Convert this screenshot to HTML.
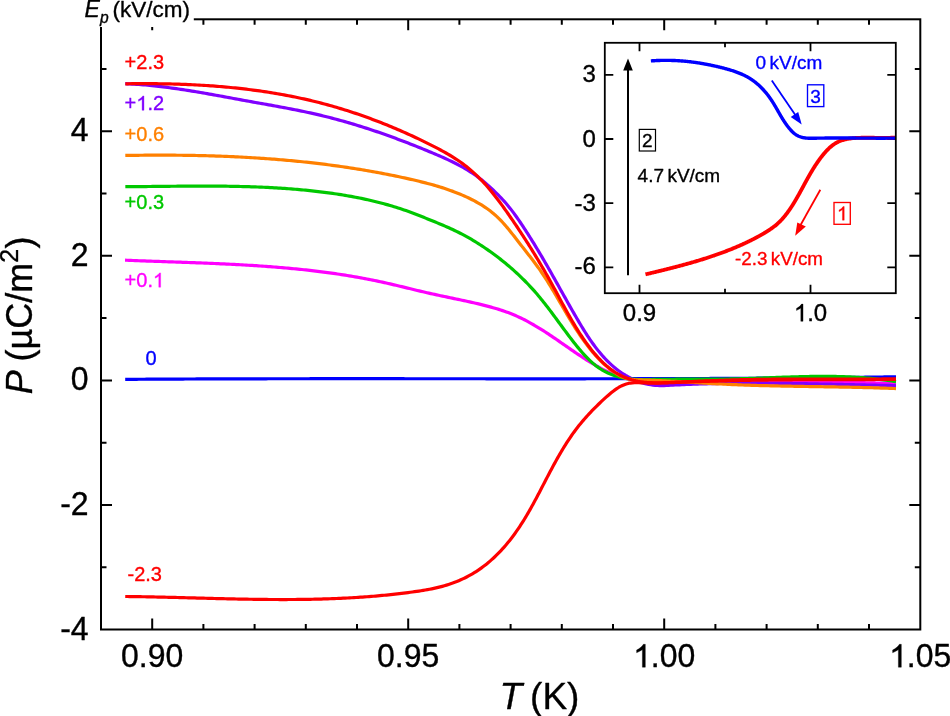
<!DOCTYPE html><html><head><meta charset="utf-8"><style>html,body{margin:0;padding:0;background:#fff;width:950px;height:716px;overflow:hidden}svg{display:block;font-family:"Liberation Sans",sans-serif;will-change:transform}</style></head><body>
<svg width="950" height="716" viewBox="0 0 950 716">
<rect width="950" height="716" fill="#fff"/>
<path d="M125.20,379.36 L127.13,379.34 L129.06,379.33 L131.00,379.32 L132.93,379.30 L134.86,379.29 L136.79,379.28 L138.72,379.27 L140.65,379.25 L142.59,379.24 L144.52,379.23 L146.45,379.22 L148.38,379.21 L150.31,379.20 L152.25,379.19 L154.18,379.17 L156.11,379.16 L158.04,379.15 L159.97,379.14 L161.90,379.13 L163.84,379.12 L165.77,379.11 L167.70,379.10 L169.63,379.09 L171.56,379.08 L173.50,379.07 L175.43,379.06 L177.36,379.05 L179.29,379.05 L181.22,379.04 L183.16,379.03 L185.09,379.02 L187.02,379.01 L188.95,379.00 L190.88,378.99 L192.81,378.99 L194.75,378.98 L196.68,378.97 L198.61,378.96 L200.54,378.96 L202.47,378.95 L204.41,378.94 L206.34,378.93 L208.27,378.93 L210.20,378.92 L212.13,378.91 L214.06,378.91 L216.00,378.90 L217.93,378.90 L219.86,378.89 L221.79,378.88 L223.72,378.88 L225.66,378.87 L227.59,378.87 L229.52,378.86 L231.45,378.86 L233.38,378.85 L235.31,378.84 L237.25,378.84 L239.18,378.83 L241.11,378.83 L243.04,378.83 L244.97,378.82 L246.91,378.82 L248.84,378.81 L250.77,378.81 L252.70,378.80 L254.63,378.80 L256.57,378.80 L258.50,378.79 L260.43,378.79 L262.36,378.78 L264.29,378.78 L266.22,378.78 L268.16,378.77 L270.09,378.77 L272.02,378.77 L273.95,378.76 L275.88,378.76 L277.82,378.76 L279.75,378.76 L281.68,378.75 L283.61,378.75 L285.54,378.75 L287.48,378.75 L289.41,378.74 L291.34,378.74 L293.27,378.74 L295.20,378.74 L297.13,378.74 L299.07,378.73 L301.00,378.73 L302.93,378.73 L304.86,378.73 L306.79,378.73 L308.73,378.73 L310.66,378.72 L312.59,378.72 L314.52,378.72 L316.45,378.72 L318.39,378.72 L320.32,378.72 L322.25,378.72 L324.18,378.72 L326.11,378.72 L328.04,378.71 L329.98,378.71 L331.91,378.71 L333.84,378.71 L335.77,378.71 L337.70,378.71 L339.64,378.71 L341.57,378.71 L343.50,378.71 L345.43,378.71 L347.36,378.71 L349.30,378.71 L351.23,378.71 L353.16,378.71 L355.09,378.71 L357.02,378.71 L358.95,378.71 L360.89,378.71 L362.82,378.71 L364.75,378.71 L366.68,378.71 L368.61,378.71 L370.55,378.71 L372.48,378.71 L374.41,378.71 L376.34,378.71 L378.27,378.71 L380.21,378.71 L382.14,378.72 L384.07,378.72 L386.00,378.72 L387.93,378.72 L389.86,378.72 L391.80,378.72 L393.73,378.72 L395.66,378.72 L397.59,378.72 L399.52,378.72 L401.46,378.72 L403.39,378.72 L405.32,378.73 L407.25,378.73 L409.18,378.73 L411.12,378.73 L413.05,378.73 L414.98,378.73 L416.91,378.73 L418.84,378.73 L420.78,378.73 L422.71,378.74 L424.64,378.74 L426.57,378.74 L428.50,378.74 L430.43,378.74 L432.37,378.74 L434.30,378.74 L436.23,378.74 L438.16,378.75 L440.09,378.75 L442.03,378.75 L443.96,378.75 L445.89,378.75 L447.82,378.75 L449.75,378.75 L451.69,378.75 L453.62,378.76 L455.55,378.76 L457.48,378.76 L459.41,378.76 L461.34,378.76 L463.28,378.76 L465.21,378.76 L467.14,378.76 L469.07,378.77 L471.00,378.77 L472.94,378.77 L474.87,378.77 L476.80,378.77 L478.73,378.77 L480.66,378.77 L482.60,378.77 L484.53,378.77 L486.46,378.78 L488.39,378.78 L490.32,378.78 L492.26,378.78 L494.19,378.78 L496.12,378.78 L498.05,378.78 L499.98,378.78 L501.91,378.78 L503.85,378.78 L505.78,378.78 L507.71,378.78 L509.64,378.79 L511.57,378.79 L513.51,378.79 L515.44,378.79 L517.37,378.79 L519.30,378.79 L521.23,378.79 L523.17,378.79 L525.10,378.79 L527.03,378.79 L528.96,378.79 L530.89,378.79 L532.82,378.79 L534.76,378.79 L536.69,378.79 L538.62,378.79 L540.55,378.79 L542.48,378.79 L544.42,378.79 L546.35,378.79 L548.28,378.79 L550.21,378.79 L552.14,378.79 L554.08,378.79 L556.01,378.79 L557.94,378.79 L559.87,378.79 L561.80,378.79 L563.73,378.79 L565.67,378.79 L567.60,378.79 L569.53,378.78 L571.46,378.78 L573.39,378.78 L575.33,378.78 L577.26,378.78 L579.19,378.78 L581.12,378.78 L583.05,378.78 L584.99,378.78 L586.92,378.77 L588.85,378.77 L590.78,378.77 L592.71,378.77 L594.64,378.77 L596.58,378.76 L598.51,378.76 L600.44,378.76 L602.37,378.76 L604.30,378.76 L606.24,378.75 L608.17,378.75 L610.10,378.75 L612.03,378.75 L613.96,378.74 L615.89,378.74 L617.83,378.74 L619.76,378.74 L621.69,378.73 L623.62,378.73 L625.55,378.73 L627.49,378.72 L629.42,378.72 L631.35,378.72 L633.28,378.71 L635.21,378.71 L637.15,378.70 L639.08,378.70 L641.01,378.70 L642.94,378.69 L644.87,378.69 L646.80,378.68 L648.74,378.68 L650.67,378.67 L652.60,378.67 L654.53,378.66 L656.46,378.66 L658.40,378.65 L660.33,378.65 L662.26,378.64 L664.19,378.64 L666.12,378.63 L668.05,378.63 L669.99,378.62 L671.92,378.62 L673.85,378.61 L675.78,378.60 L677.71,378.60 L679.65,378.59 L681.58,378.58 L683.51,378.58 L685.44,378.57 L687.37,378.56 L689.30,378.56 L691.24,378.55 L693.17,378.54 L695.10,378.53 L697.03,378.53 L698.96,378.52 L700.90,378.51 L702.83,378.50 L704.76,378.49 L706.69,378.49 L708.62,378.48 L710.55,378.47 L712.49,378.46 L714.42,378.45 L716.35,378.44 L718.28,378.43 L720.21,378.42 L722.15,378.41 L724.08,378.40 L726.01,378.39 L727.94,378.38 L729.87,378.37 L731.80,378.36 L733.74,378.35 L735.67,378.34 L737.60,378.33 L739.53,378.32 L741.46,378.31 L743.40,378.30 L745.33,378.29 L747.26,378.28 L749.19,378.26 L751.12,378.25 L753.05,378.24 L754.99,378.23 L756.92,378.22 L758.85,378.20 L760.78,378.19 L762.71,378.18 L764.65,378.16 L766.58,378.15 L768.51,378.14 L770.44,378.12 L772.37,378.11 L774.30,378.10 L776.24,378.08 L778.17,378.07 L780.10,378.05 L782.03,378.04 L783.96,378.02 L785.89,378.01 L787.83,377.99 L789.76,377.98 L791.69,377.96 L793.62,377.95 L795.55,377.93 L797.49,377.91 L799.42,377.90 L801.35,377.88 L803.28,377.86 L805.21,377.85 L807.14,377.83 L809.08,377.81 L811.01,377.80 L812.94,377.78 L814.87,377.76 L816.80,377.74 L818.73,377.72 L820.67,377.70 L822.60,377.69 L824.53,377.67 L826.46,377.65 L828.39,377.63 L830.32,377.61 L832.26,377.59 L834.19,377.57 L836.12,377.55 L838.05,377.53 L839.98,377.51 L841.92,377.49 L843.85,377.46 L845.78,377.44 L847.71,377.42 L849.64,377.40 L851.57,377.38 L853.51,377.36 L855.44,377.33 L857.37,377.31 L859.30,377.29 L861.23,377.26 L863.16,377.24 L865.10,377.22 L867.03,377.19 L868.96,377.17 L870.89,377.15 L872.82,377.12 L874.75,377.10 L876.69,377.07 L878.62,377.05 L880.55,377.02 L882.48,376.99 L884.41,376.97 L886.34,376.94 L888.28,376.92 L890.21,376.89 L892.14,376.86 L894.07,376.83 L896.00,376.81" fill="none" stroke="#0000ff" stroke-width="3.2" stroke-linejoin="round" stroke-linecap="butt"/>
<path d="M125.04,260.19 L127.02,260.27 L129.00,260.35 L130.98,260.43 L132.96,260.51 L134.95,260.59 L136.93,260.67 L138.91,260.74 L140.89,260.81 L142.88,260.89 L144.86,260.96 L146.84,261.03 L148.83,261.10 L150.81,261.18 L152.80,261.25 L154.79,261.32 L156.77,261.39 L158.76,261.45 L160.75,261.52 L162.73,261.59 L164.72,261.66 L166.71,261.73 L168.70,261.80 L170.69,261.87 L172.67,261.94 L174.66,262.00 L176.65,262.07 L178.64,262.14 L180.63,262.21 L182.62,262.28 L184.61,262.35 L186.60,262.43 L188.59,262.50 L190.58,262.57 L192.57,262.64 L194.56,262.72 L196.56,262.79 L198.55,262.87 L200.54,262.94 L202.53,263.02 L204.52,263.10 L206.51,263.18 L208.50,263.26 L210.49,263.34 L212.49,263.43 L214.48,263.51 L216.47,263.60 L218.46,263.69 L220.45,263.78 L222.44,263.87 L224.43,263.96 L226.42,264.06 L228.42,264.15 L230.41,264.25 L232.40,264.35 L234.39,264.45 L236.38,264.56 L238.37,264.66 L240.36,264.77 L242.35,264.88 L244.34,264.99 L246.33,265.11 L248.32,265.23 L250.31,265.35 L252.30,265.47 L254.28,265.60 L256.27,265.72 L258.26,265.85 L260.25,265.99 L262.24,266.12 L264.22,266.26 L266.21,266.40 L268.20,266.55 L270.18,266.70 L272.17,266.85 L274.15,267.00 L276.14,267.16 L278.12,267.32 L280.11,267.49 L282.09,267.65 L284.08,267.82 L286.06,268.00 L288.04,268.18 L290.02,268.36 L292.00,268.55 L293.98,268.74 L295.96,268.93 L297.94,269.13 L299.92,269.33 L301.90,269.53 L303.88,269.74 L305.86,269.96 L307.83,270.17 L309.81,270.40 L311.79,270.62 L313.76,270.85 L315.74,271.09 L317.71,271.33 L319.68,271.57 L321.65,271.82 L323.63,272.07 L325.60,272.33 L327.57,272.60 L329.54,272.86 L331.51,273.14 L333.47,273.41 L335.44,273.70 L337.41,273.99 L339.37,274.28 L341.34,274.58 L343.30,274.88 L345.26,275.19 L347.23,275.51 L349.19,275.83 L351.15,276.15 L353.11,276.48 L355.07,276.82 L357.02,277.16 L358.98,277.51 L360.94,277.87 L362.89,278.23 L364.84,278.59 L366.80,278.96 L368.75,279.34 L370.70,279.73 L372.65,280.12 L374.60,280.51 L376.55,280.92 L378.49,281.33 L380.44,281.74 L382.38,282.16 L384.33,282.59 L386.27,283.03 L388.21,283.47 L390.15,283.92 L392.09,284.37 L394.03,284.83 L395.97,285.29 L397.90,285.75 L399.84,286.22 L401.78,286.68 L403.71,287.15 L405.65,287.62 L407.58,288.09 L409.52,288.56 L411.45,289.03 L413.39,289.50 L415.32,289.97 L417.26,290.44 L419.19,290.90 L421.13,291.35 L423.06,291.81 L425.00,292.26 L426.94,292.70 L428.88,293.14 L430.81,293.58 L432.75,294.01 L434.69,294.43 L436.63,294.85 L438.57,295.27 L440.51,295.69 L442.46,296.10 L444.40,296.51 L446.34,296.92 L448.29,297.33 L450.23,297.74 L452.18,298.15 L454.12,298.56 L456.07,298.97 L458.02,299.38 L459.96,299.80 L461.91,300.21 L463.86,300.63 L465.81,301.05 L467.76,301.48 L469.72,301.91 L471.67,302.34 L473.62,302.78 L475.57,303.23 L477.52,303.68 L479.47,304.14 L481.42,304.61 L483.36,305.09 L485.30,305.58 L487.24,306.09 L489.17,306.60 L491.10,307.13 L493.02,307.67 L494.94,308.23 L496.85,308.80 L498.75,309.39 L500.65,309.99 L502.54,310.61 L504.42,311.26 L506.29,311.92 L508.15,312.60 L510.01,313.31 L511.85,314.03 L513.68,314.78 L515.50,315.56 L517.30,316.36 L519.10,317.18 L520.89,318.02 L522.66,318.89 L524.42,319.78 L526.18,320.69 L527.92,321.62 L529.66,322.56 L531.39,323.53 L533.11,324.51 L534.82,325.51 L536.52,326.52 L538.22,327.54 L539.91,328.59 L541.60,329.64 L543.28,330.70 L544.95,331.78 L546.62,332.87 L548.29,333.96 L549.95,335.07 L551.61,336.18 L553.27,337.30 L554.92,338.42 L556.57,339.55 L558.22,340.69 L559.87,341.82 L561.52,342.96 L563.16,344.11 L564.81,345.25 L566.45,346.39 L568.10,347.53 L569.75,348.67 L571.40,349.81 L573.05,350.94 L574.71,352.07 L576.37,353.20 L578.03,354.32 L579.69,355.43 L581.36,356.54 L583.03,357.63 L584.71,358.72 L586.39,359.80 L588.08,360.86 L589.78,361.91 L591.48,362.95 L593.19,363.98 L594.91,364.99 L596.63,365.98 L598.36,366.95 L600.10,367.90 L601.85,368.82 L603.60,369.73 L605.37,370.60 L607.15,371.45 L608.93,372.27 L610.72,373.06 L612.53,373.82 L614.35,374.55 L616.17,375.24 L618.01,375.90 L619.86,376.51 L621.72,377.09 L623.60,377.63 L625.48,378.13 L627.38,378.58 L629.29,378.99 L631.21,379.37 L633.15,379.70 L635.09,380.01 L637.04,380.27 L639.00,380.51 L640.97,380.72 L642.95,380.90 L644.94,381.05 L646.93,381.18 L648.92,381.29 L650.92,381.37 L652.93,381.44 L654.94,381.49 L656.95,381.53 L658.96,381.55 L660.98,381.57 L663.00,381.57 L665.02,381.57 L667.03,381.56 L669.05,381.55 L671.07,381.53 L673.08,381.52 L675.09,381.50 L677.10,381.49 L679.11,381.47 L681.12,381.46 L683.13,381.44 L685.13,381.42 L687.13,381.40 L689.14,381.38 L691.14,381.36 L693.14,381.34 L695.14,381.32 L697.13,381.31 L699.13,381.29 L701.12,381.27 L703.12,381.25 L705.11,381.23 L707.10,381.21 L709.09,381.19 L711.09,381.17 L713.07,381.15 L715.06,381.13 L717.05,381.11 L719.04,381.09 L721.03,381.07 L723.01,381.06 L725.00,381.04 L726.98,381.02 L728.97,381.01 L730.95,380.99 L732.94,380.98 L734.92,380.96 L736.90,380.95 L738.89,380.94 L740.87,380.93 L742.85,380.92 L744.84,380.91 L746.82,380.90 L748.80,380.90 L750.78,380.89 L752.77,380.89 L754.75,380.89 L756.73,380.88 L758.72,380.88 L760.70,380.89 L762.68,380.89 L764.67,380.89 L766.65,380.90 L768.64,380.91 L770.62,380.92 L772.61,380.93 L774.59,380.94 L776.58,380.96 L778.57,380.97 L780.56,380.99 L782.54,381.01 L784.53,381.03 L786.52,381.05 L788.51,381.08 L790.50,381.10 L792.49,381.13 L794.48,381.16 L796.47,381.19 L798.46,381.22 L800.45,381.25 L802.44,381.28 L804.43,381.32 L806.43,381.35 L808.42,381.39 L810.41,381.43 L812.40,381.46 L814.39,381.50 L816.39,381.54 L818.38,381.58 L820.37,381.63 L822.37,381.67 L824.36,381.71 L826.35,381.76 L828.34,381.80 L830.34,381.85 L832.33,381.89 L834.32,381.94 L836.31,381.98 L838.31,382.03 L840.30,382.08 L842.29,382.13 L844.28,382.18 L846.28,382.23 L848.27,382.28 L850.26,382.33 L852.25,382.38 L854.24,382.43 L856.24,382.48 L858.23,382.53 L860.22,382.58 L862.21,382.63 L864.20,382.68 L866.19,382.73 L868.18,382.78 L870.17,382.83 L872.16,382.88 L874.15,382.93 L876.13,382.98 L878.12,383.03 L880.11,383.08 L882.10,383.13 L884.08,383.18 L886.07,383.22 L888.05,383.27 L890.04,383.32 L892.02,383.36 L894.01,383.41 L895.99,383.46" fill="none" stroke="#ff00ff" stroke-width="3.2" stroke-linejoin="round" stroke-linecap="butt"/>
<path d="M125.29,83.71 L127.53,83.81 L129.77,83.91 L132.00,84.04 L134.23,84.17 L136.46,84.31 L138.69,84.47 L140.92,84.64 L143.14,84.82 L145.37,85.01 L147.59,85.21 L149.81,85.42 L152.03,85.64 L154.25,85.87 L156.46,86.11 L158.68,86.36 L160.89,86.62 L163.10,86.89 L165.32,87.17 L167.53,87.45 L169.73,87.74 L171.94,88.04 L174.15,88.35 L176.35,88.67 L178.56,88.99 L180.76,89.32 L182.96,89.65 L185.17,89.99 L187.37,90.34 L189.57,90.69 L191.77,91.05 L193.96,91.41 L196.16,91.78 L198.36,92.15 L200.56,92.52 L202.75,92.90 L204.95,93.28 L207.15,93.67 L209.34,94.06 L211.54,94.45 L213.73,94.84 L215.93,95.24 L218.12,95.64 L220.31,96.04 L222.51,96.44 L224.70,96.84 L226.90,97.25 L229.09,97.65 L231.29,98.05 L233.48,98.46 L235.68,98.86 L237.87,99.26 L240.07,99.67 L242.26,100.07 L244.46,100.47 L246.66,100.87 L248.85,101.26 L251.05,101.66 L253.25,102.05 L255.45,102.45 L257.64,102.84 L259.84,103.23 L262.04,103.62 L264.24,104.02 L266.44,104.41 L268.63,104.81 L270.83,105.20 L273.03,105.60 L275.22,106.00 L277.42,106.40 L279.61,106.81 L281.81,107.21 L284.00,107.63 L286.19,108.04 L288.39,108.46 L290.58,108.88 L292.77,109.31 L294.95,109.74 L297.14,110.18 L299.33,110.62 L301.51,111.07 L303.69,111.53 L305.88,111.99 L308.05,112.45 L310.23,112.93 L312.41,113.41 L314.58,113.90 L316.75,114.40 L318.92,114.91 L321.09,115.42 L323.26,115.95 L325.42,116.48 L327.58,117.02 L329.74,117.57 L331.90,118.13 L334.05,118.69 L336.21,119.27 L338.36,119.85 L340.51,120.44 L342.65,121.04 L344.80,121.65 L346.94,122.26 L349.08,122.89 L351.22,123.52 L353.35,124.15 L355.49,124.80 L357.62,125.45 L359.75,126.11 L361.87,126.78 L364.00,127.45 L366.12,128.13 L368.24,128.82 L370.36,129.52 L372.48,130.22 L374.59,130.93 L376.71,131.64 L378.82,132.36 L380.92,133.09 L383.03,133.82 L385.14,134.57 L387.24,135.31 L389.34,136.07 L391.44,136.82 L393.53,137.59 L395.63,138.36 L397.72,139.14 L399.81,139.92 L401.90,140.71 L403.98,141.50 L406.07,142.30 L408.15,143.10 L410.23,143.91 L412.31,144.72 L414.38,145.54 L416.46,146.37 L418.53,147.20 L420.60,148.03 L422.66,148.87 L424.73,149.71 L426.79,150.56 L428.86,151.41 L430.92,152.27 L432.97,153.13 L435.03,154.00 L437.08,154.87 L439.13,155.76 L441.17,156.65 L443.20,157.55 L445.23,158.47 L447.25,159.40 L449.27,160.34 L451.27,161.30 L453.27,162.28 L455.25,163.28 L457.22,164.29 L459.19,165.33 L461.14,166.39 L463.07,167.47 L465.00,168.57 L466.90,169.70 L468.80,170.86 L470.67,172.05 L472.53,173.26 L474.38,174.51 L476.20,175.79 L478.01,177.10 L479.79,178.44 L481.56,179.82 L483.30,181.24 L485.03,182.68 L486.73,184.16 L488.42,185.65 L490.09,187.17 L491.74,188.71 L493.37,190.26 L494.99,191.82 L496.58,193.39 L498.17,194.97 L499.73,196.55 L501.27,198.14 L502.79,199.75 L504.28,201.38 L505.74,203.04 L507.18,204.71 L508.59,206.41 L509.97,208.13 L511.33,209.87 L512.67,211.62 L513.99,213.40 L515.30,215.18 L516.58,216.99 L517.86,218.80 L519.12,220.63 L520.37,222.48 L521.61,224.33 L522.84,226.19 L524.07,228.05 L525.29,229.93 L526.50,231.81 L527.71,233.70 L528.92,235.59 L530.12,237.49 L531.31,239.40 L532.50,241.30 L533.68,243.21 L534.86,245.13 L536.03,247.05 L537.20,248.97 L538.35,250.89 L539.51,252.81 L540.65,254.73 L541.79,256.66 L542.92,258.58 L544.04,260.51 L545.16,262.44 L546.27,264.36 L547.38,266.29 L548.48,268.21 L549.58,270.14 L550.67,272.07 L551.77,273.99 L552.85,275.92 L553.94,277.85 L555.02,279.78 L556.10,281.71 L557.18,283.64 L558.26,285.57 L559.34,287.50 L560.42,289.43 L561.50,291.36 L562.58,293.29 L563.66,295.23 L564.75,297.16 L565.83,299.09 L566.92,301.03 L568.01,302.97 L569.10,304.90 L570.20,306.84 L571.31,308.78 L572.41,310.71 L573.53,312.65 L574.64,314.59 L575.77,316.54 L576.90,318.48 L578.04,320.42 L579.18,322.36 L580.34,324.30 L581.50,326.23 L582.68,328.16 L583.87,330.08 L585.07,332.00 L586.28,333.90 L587.51,335.79 L588.75,337.67 L590.01,339.54 L591.29,341.39 L592.59,343.23 L593.90,345.04 L595.24,346.84 L596.59,348.62 L597.97,350.37 L599.37,352.10 L600.80,353.80 L602.25,355.48 L603.72,357.13 L605.22,358.75 L606.75,360.34 L608.31,361.90 L609.89,363.42 L611.51,364.91 L613.16,366.36 L614.84,367.78 L616.55,369.15 L618.30,370.49 L620.08,371.78 L621.90,373.03 L623.75,374.23 L625.64,375.39 L627.57,376.49 L629.54,377.55 L631.55,378.56 L633.59,379.51 L635.66,380.41 L637.76,381.24 L639.88,382.01 L642.02,382.71 L644.19,383.34 L646.37,383.90 L648.57,384.38 L650.77,384.78 L652.98,385.11 L655.20,385.34 L657.42,385.49 L659.65,385.57 L661.87,385.58 L664.10,385.55 L666.33,385.47 L668.56,385.37 L670.79,385.25 L673.02,385.13 L675.25,385.02 L677.48,384.91 L679.71,384.80 L681.94,384.70 L684.16,384.60 L686.39,384.50 L688.62,384.41 L690.85,384.32 L693.08,384.23 L695.31,384.15 L697.54,384.08 L699.77,384.00 L702.00,383.93 L704.23,383.86 L706.46,383.80 L708.69,383.74 L710.92,383.68 L713.15,383.63 L715.38,383.58 L717.61,383.53 L719.84,383.49 L722.06,383.45 L724.29,383.41 L726.52,383.37 L728.75,383.34 L730.98,383.31 L733.21,383.29 L735.44,383.27 L737.67,383.24 L739.90,383.23 L742.13,383.21 L744.36,383.20 L746.59,383.19 L748.82,383.18 L751.05,383.18 L753.28,383.18 L755.51,383.18 L757.74,383.18 L759.97,383.19 L762.20,383.19 L764.43,383.20 L766.66,383.22 L768.89,383.23 L771.12,383.24 L773.35,383.26 L775.58,383.28 L777.81,383.30 L780.04,383.33 L782.27,383.35 L784.50,383.38 L786.73,383.40 L788.96,383.43 L791.19,383.46 L793.42,383.50 L795.65,383.53 L797.88,383.57 L800.11,383.60 L802.34,383.64 L804.57,383.68 L806.80,383.72 L809.03,383.76 L811.27,383.80 L813.50,383.84 L815.73,383.89 L817.96,383.93 L820.19,383.98 L822.42,384.02 L824.65,384.07 L826.88,384.12 L829.11,384.16 L831.34,384.21 L833.57,384.26 L835.80,384.31 L838.03,384.36 L840.26,384.41 L842.49,384.46 L844.72,384.51 L846.95,384.56 L849.18,384.61 L851.41,384.66 L853.64,384.71 L855.87,384.76 L858.10,384.81 L860.33,384.86 L862.56,384.91 L864.79,384.96 L867.02,385.01 L869.25,385.06 L871.48,385.10 L873.70,385.15 L875.93,385.20 L878.16,385.24 L880.39,385.29 L882.62,385.33 L884.85,385.38 L887.08,385.42 L889.31,385.46 L891.54,385.50 L893.77,385.54 L896.00,385.58" fill="none" stroke="#8000ff" stroke-width="3.2" stroke-linejoin="round" stroke-linecap="butt"/>
<path d="M125.33,186.70 L127.42,186.69 L129.50,186.68 L131.60,186.66 L133.69,186.65 L135.78,186.63 L137.87,186.61 L139.96,186.59 L142.05,186.57 L144.15,186.55 L146.24,186.53 L148.33,186.51 L150.43,186.49 L152.52,186.47 L154.62,186.44 L156.71,186.42 L158.81,186.40 L160.91,186.38 L163.00,186.36 L165.10,186.33 L167.20,186.31 L169.30,186.29 L171.39,186.27 L173.49,186.25 L175.59,186.23 L177.69,186.21 L179.79,186.20 L181.89,186.18 L183.99,186.17 L186.09,186.15 L188.19,186.14 L190.29,186.13 L192.39,186.12 L194.49,186.11 L196.59,186.10 L198.69,186.10 L200.79,186.09 L202.89,186.09 L204.99,186.09 L207.09,186.09 L209.19,186.10 L211.29,186.10 L213.39,186.11 L215.49,186.13 L217.59,186.14 L219.69,186.16 L221.79,186.18 L223.89,186.20 L225.99,186.22 L228.09,186.25 L230.19,186.28 L232.29,186.32 L234.39,186.35 L236.49,186.39 L238.59,186.44 L240.69,186.49 L242.79,186.54 L244.89,186.59 L246.99,186.65 L249.09,186.71 L251.19,186.78 L253.28,186.85 L255.38,186.92 L257.48,187.00 L259.58,187.09 L261.67,187.17 L263.77,187.27 L265.86,187.36 L267.96,187.46 L270.06,187.57 L272.15,187.68 L274.24,187.80 L276.34,187.92 L278.43,188.05 L280.53,188.18 L282.62,188.31 L284.71,188.46 L286.80,188.60 L288.89,188.76 L290.98,188.92 L293.07,189.08 L295.16,189.25 L297.25,189.43 L299.34,189.61 L301.43,189.80 L303.51,189.99 L305.60,190.19 L307.69,190.40 L309.77,190.62 L311.86,190.84 L313.94,191.06 L316.02,191.30 L318.10,191.54 L320.19,191.79 L322.27,192.04 L324.35,192.30 L326.43,192.57 L328.50,192.85 L330.58,193.13 L332.66,193.43 L334.73,193.73 L336.81,194.04 L338.88,194.35 L340.95,194.68 L343.02,195.01 L345.09,195.36 L347.15,195.71 L349.22,196.07 L351.28,196.44 L353.34,196.82 L355.40,197.21 L357.45,197.61 L359.51,198.02 L361.56,198.44 L363.61,198.87 L365.66,199.32 L367.70,199.77 L369.74,200.23 L371.78,200.70 L373.82,201.19 L375.85,201.69 L377.89,202.19 L379.92,202.71 L381.94,203.24 L383.96,203.79 L385.98,204.34 L388.00,204.91 L390.01,205.49 L392.02,206.09 L394.03,206.69 L396.03,207.31 L398.03,207.95 L400.03,208.59 L402.02,209.25 L404.01,209.92 L405.99,210.61 L407.97,211.31 L409.95,212.03 L411.92,212.76 L413.89,213.50 L415.85,214.25 L417.81,215.02 L419.77,215.79 L421.73,216.56 L423.68,217.35 L425.64,218.14 L427.59,218.93 L429.54,219.72 L431.49,220.51 L433.43,221.30 L435.38,222.09 L437.32,222.89 L439.26,223.69 L441.19,224.50 L443.12,225.31 L445.05,226.14 L446.97,226.97 L448.88,227.82 L450.79,228.68 L452.68,229.55 L454.57,230.44 L456.46,231.35 L458.33,232.27 L460.19,233.21 L462.05,234.16 L463.90,235.14 L465.73,236.14 L467.56,237.15 L469.38,238.19 L471.18,239.24 L472.98,240.31 L474.78,241.39 L476.56,242.49 L478.33,243.61 L480.10,244.74 L481.86,245.88 L483.61,247.04 L485.35,248.21 L487.08,249.40 L488.81,250.60 L490.52,251.81 L492.23,253.04 L493.93,254.28 L495.62,255.53 L497.30,256.80 L498.97,258.08 L500.63,259.37 L502.27,260.68 L503.91,261.99 L505.54,263.32 L507.16,264.67 L508.77,266.02 L510.36,267.39 L511.95,268.77 L513.52,270.17 L515.08,271.57 L516.63,272.99 L518.17,274.42 L519.70,275.86 L521.21,277.32 L522.71,278.78 L524.20,280.26 L525.68,281.75 L527.14,283.25 L528.59,284.77 L530.02,286.29 L531.45,287.83 L532.85,289.37 L534.25,290.93 L535.63,292.50 L536.99,294.08 L538.34,295.68 L539.68,297.28 L541.00,298.89 L542.32,300.51 L543.62,302.14 L544.91,303.78 L546.19,305.43 L547.47,307.08 L548.73,308.74 L549.99,310.41 L551.25,312.08 L552.50,313.75 L553.74,315.43 L554.99,317.11 L556.23,318.80 L557.47,320.49 L558.71,322.18 L559.95,323.87 L561.19,325.56 L562.43,327.26 L563.68,328.95 L564.93,330.64 L566.19,332.33 L567.45,334.01 L568.72,335.70 L569.99,337.38 L571.28,339.06 L572.57,340.73 L573.88,342.40 L575.19,344.06 L576.52,345.72 L577.86,347.37 L579.21,349.01 L580.59,350.63 L581.97,352.24 L583.38,353.83 L584.81,355.40 L586.26,356.94 L587.74,358.45 L589.24,359.92 L590.77,361.36 L592.32,362.76 L593.91,364.11 L595.53,365.41 L597.18,366.66 L598.87,367.85 L600.60,368.99 L602.36,370.07 L604.16,371.08 L605.99,372.04 L607.84,372.94 L609.73,373.78 L611.64,374.56 L613.58,375.28 L615.54,375.94 L617.52,376.55 L619.52,377.09 L621.54,377.57 L623.57,378.00 L625.62,378.36 L627.68,378.67 L629.76,378.92 L631.84,379.13 L633.93,379.29 L636.03,379.41 L638.14,379.50 L640.25,379.55 L642.37,379.58 L644.49,379.58 L646.62,379.57 L648.75,379.55 L650.87,379.51 L653.00,379.47 L655.12,379.43 L657.25,379.40 L659.37,379.37 L661.48,379.34 L663.60,379.31 L665.71,379.29 L667.82,379.27 L669.93,379.26 L672.03,379.24 L674.14,379.23 L676.24,379.22 L678.34,379.22 L680.44,379.21 L682.54,379.21 L684.63,379.20 L686.73,379.20 L688.82,379.20 L690.91,379.20 L693.01,379.20 L695.10,379.20 L697.18,379.20 L699.27,379.20 L701.36,379.19 L703.45,379.19 L705.53,379.19 L707.62,379.18 L709.71,379.17 L711.79,379.16 L713.88,379.15 L715.97,379.14 L718.05,379.12 L720.14,379.10 L722.22,379.08 L724.31,379.05 L726.40,379.02 L728.49,378.99 L730.58,378.95 L732.67,378.91 L734.76,378.86 L736.85,378.81 L738.94,378.76 L741.03,378.70 L743.12,378.64 L745.22,378.58 L747.31,378.51 L749.41,378.44 L751.50,378.37 L753.60,378.30 L755.70,378.23 L757.79,378.15 L759.89,378.08 L761.99,378.00 L764.09,377.92 L766.19,377.84 L768.29,377.76 L770.39,377.68 L772.49,377.60 L774.59,377.52 L776.69,377.44 L778.79,377.37 L780.89,377.29 L782.99,377.21 L785.09,377.14 L787.20,377.07 L789.30,377.00 L791.40,376.93 L793.50,376.87 L795.60,376.80 L797.71,376.74 L799.81,376.69 L801.91,376.64 L804.01,376.59 L806.11,376.54 L808.21,376.50 L810.32,376.47 L812.42,376.43 L814.52,376.41 L816.62,376.39 L818.72,376.37 L820.82,376.36 L822.92,376.35 L825.02,376.36 L827.12,376.36 L829.22,376.38 L831.31,376.40 L833.41,376.43 L835.51,376.46 L837.61,376.51 L839.70,376.56 L841.80,376.61 L843.89,376.68 L845.99,376.76 L848.08,376.84 L850.17,376.93 L852.27,377.04 L854.36,377.15 L856.45,377.27 L858.54,377.40 L860.63,377.54 L862.72,377.69 L864.80,377.85 L866.89,378.03 L868.98,378.21 L871.06,378.41 L873.15,378.61 L875.23,378.83 L877.31,379.06 L879.39,379.31 L881.47,379.56 L883.55,379.83 L885.63,380.11 L887.70,380.40 L889.78,380.71 L891.85,381.03 L893.93,381.37 L896.00,381.72" fill="none" stroke="#00c800" stroke-width="3.2" stroke-linejoin="round" stroke-linecap="butt"/>
<path d="M125.30,155.46 L127.45,155.42 L129.61,155.39 L131.77,155.36 L133.93,155.33 L136.09,155.30 L138.24,155.28 L140.40,155.26 L142.56,155.24 L144.72,155.22 L146.88,155.20 L149.04,155.19 L151.20,155.18 L153.36,155.17 L155.52,155.16 L157.68,155.16 L159.84,155.15 L162.00,155.16 L164.16,155.16 L166.32,155.16 L168.48,155.17 L170.64,155.18 L172.80,155.19 L174.96,155.21 L177.12,155.23 L179.28,155.25 L181.44,155.27 L183.60,155.30 L185.76,155.33 L187.92,155.36 L190.08,155.39 L192.25,155.43 L194.41,155.47 L196.57,155.51 L198.73,155.56 L200.89,155.61 L203.05,155.66 L205.21,155.71 L207.37,155.77 L209.53,155.83 L211.69,155.90 L213.85,155.96 L216.00,156.03 L218.16,156.11 L220.32,156.18 L222.48,156.26 L224.64,156.35 L226.80,156.43 L228.96,156.52 L231.12,156.61 L233.27,156.71 L235.43,156.81 L237.59,156.91 L239.75,157.02 L241.90,157.13 L244.06,157.24 L246.22,157.36 L248.37,157.48 L250.53,157.60 L252.69,157.73 L254.84,157.86 L257.00,158.00 L259.15,158.14 L261.31,158.28 L263.46,158.43 L265.61,158.58 L267.77,158.73 L269.92,158.89 L272.07,159.05 L274.22,159.22 L276.38,159.39 L278.53,159.56 L280.68,159.74 L282.83,159.92 L284.98,160.11 L287.13,160.30 L289.28,160.49 L291.43,160.69 L293.58,160.89 L295.73,161.10 L297.87,161.31 L300.02,161.52 L302.17,161.74 L304.31,161.97 L306.46,162.20 L308.60,162.43 L310.75,162.67 L312.89,162.91 L315.03,163.15 L317.18,163.40 L319.32,163.66 L321.46,163.92 L323.60,164.18 L325.74,164.45 L327.88,164.72 L330.02,165.00 L332.16,165.29 L334.30,165.57 L336.44,165.87 L338.57,166.16 L340.71,166.46 L342.84,166.77 L344.98,167.08 L347.11,167.40 L349.25,167.72 L351.38,168.05 L353.51,168.38 L355.64,168.72 L357.77,169.06 L359.90,169.40 L362.03,169.76 L364.16,170.11 L366.29,170.48 L368.41,170.84 L370.54,171.22 L372.66,171.59 L374.79,171.98 L376.91,172.37 L379.04,172.76 L381.16,173.16 L383.28,173.56 L385.40,173.97 L387.52,174.39 L389.64,174.81 L391.75,175.24 L393.87,175.67 L395.99,176.11 L398.10,176.55 L400.21,177.00 L402.33,177.45 L404.44,177.91 L406.55,178.38 L408.66,178.85 L410.77,179.33 L412.88,179.81 L414.98,180.30 L417.09,180.80 L419.19,181.31 L421.29,181.83 L423.39,182.35 L425.48,182.89 L427.58,183.43 L429.66,183.99 L431.75,184.56 L433.83,185.15 L435.90,185.75 L437.97,186.36 L440.04,186.99 L442.10,187.63 L444.15,188.29 L446.20,188.97 L448.24,189.67 L450.28,190.39 L452.31,191.12 L454.33,191.88 L456.34,192.65 L458.35,193.45 L460.34,194.27 L462.33,195.11 L464.31,195.98 L466.28,196.87 L468.24,197.79 L470.19,198.73 L472.12,199.70 L474.04,200.70 L475.94,201.73 L477.83,202.79 L479.69,203.87 L481.53,204.99 L483.35,206.14 L485.15,207.32 L486.92,208.54 L488.66,209.79 L490.37,211.08 L492.06,212.41 L493.71,213.77 L495.34,215.17 L496.92,216.60 L498.48,218.08 L500.00,219.59 L501.49,221.14 L502.95,222.72 L504.39,224.32 L505.81,225.95 L507.21,227.60 L508.59,229.27 L509.95,230.96 L511.31,232.66 L512.65,234.37 L513.99,236.08 L515.32,237.80 L516.65,239.53 L517.98,241.25 L519.32,242.96 L520.66,244.67 L521.99,246.38 L523.33,248.08 L524.67,249.79 L526.01,251.49 L527.35,253.19 L528.68,254.89 L530.00,256.60 L531.32,258.31 L532.63,260.02 L533.93,261.74 L535.22,263.47 L536.50,265.20 L537.76,266.94 L539.01,268.69 L540.25,270.45 L541.47,272.22 L542.67,274.00 L543.86,275.80 L545.04,277.60 L546.21,279.41 L547.36,281.22 L548.50,283.05 L549.63,284.88 L550.76,286.72 L551.87,288.56 L552.98,290.41 L554.08,292.26 L555.18,294.12 L556.27,295.98 L557.36,297.84 L558.44,299.70 L559.53,301.57 L560.61,303.44 L561.69,305.31 L562.78,307.17 L563.86,309.04 L564.95,310.91 L566.04,312.77 L567.13,314.63 L568.23,316.49 L569.34,318.35 L570.45,320.20 L571.57,322.04 L572.70,323.88 L573.84,325.72 L574.99,327.55 L576.15,329.37 L577.32,331.18 L578.51,332.99 L579.71,334.78 L580.92,336.57 L582.15,338.35 L583.40,340.11 L584.66,341.87 L585.95,343.61 L587.25,345.34 L588.57,347.06 L589.91,348.77 L591.28,350.46 L592.66,352.13 L594.08,353.79 L595.51,355.43 L596.97,357.04 L598.46,358.63 L599.97,360.19 L601.52,361.73 L603.09,363.23 L604.69,364.70 L606.32,366.14 L607.98,367.54 L609.68,368.90 L611.41,370.22 L613.17,371.50 L614.97,372.73 L616.80,373.91 L618.67,375.02 L620.57,376.04 L622.52,376.95 L624.50,377.75 L626.51,378.40 L628.57,378.90 L630.66,379.26 L632.78,379.51 L634.91,379.67 L637.06,379.77 L639.22,379.85 L641.39,379.91 L643.55,379.98 L645.71,380.06 L647.87,380.14 L650.03,380.22 L652.19,380.31 L654.35,380.40 L656.51,380.49 L658.67,380.59 L660.83,380.69 L662.98,380.79 L665.14,380.90 L667.30,381.01 L669.46,381.12 L671.61,381.23 L673.77,381.35 L675.93,381.47 L678.08,381.59 L680.24,381.71 L682.40,381.83 L684.55,381.95 L686.71,382.07 L688.86,382.20 L691.02,382.32 L693.17,382.45 L695.33,382.57 L697.48,382.70 L699.64,382.82 L701.79,382.95 L703.95,383.07 L706.10,383.20 L708.26,383.32 L710.41,383.44 L712.56,383.56 L714.72,383.67 L716.87,383.79 L719.03,383.90 L721.18,384.02 L723.34,384.12 L725.49,384.23 L727.65,384.34 L729.80,384.44 L731.96,384.53 L734.12,384.63 L736.27,384.72 L738.43,384.81 L740.58,384.89 L742.74,384.98 L744.90,385.05 L747.05,385.13 L749.21,385.21 L751.37,385.28 L753.53,385.35 L755.68,385.41 L757.84,385.48 L760.00,385.54 L762.16,385.60 L764.31,385.66 L766.47,385.71 L768.63,385.77 L770.79,385.82 L772.95,385.87 L775.11,385.92 L777.26,385.97 L779.42,386.01 L781.58,386.06 L783.74,386.10 L785.90,386.14 L788.06,386.18 L790.22,386.22 L792.37,386.26 L794.53,386.30 L796.69,386.34 L798.85,386.37 L801.01,386.41 L803.17,386.44 L805.33,386.48 L807.49,386.51 L809.65,386.55 L811.81,386.58 L813.97,386.61 L816.13,386.65 L818.29,386.68 L820.45,386.72 L822.61,386.75 L824.76,386.78 L826.92,386.82 L829.08,386.85 L831.24,386.89 L833.40,386.92 L835.56,386.96 L837.72,387.00 L839.88,387.04 L842.04,387.08 L844.20,387.12 L846.36,387.16 L848.52,387.20 L850.68,387.24 L852.84,387.29 L854.99,387.34 L857.15,387.38 L859.31,387.43 L861.47,387.49 L863.63,387.54 L865.79,387.59 L867.95,387.65 L870.11,387.71 L872.26,387.77 L874.42,387.83 L876.58,387.90 L878.74,387.97 L880.90,388.04 L883.05,388.11 L885.21,388.19 L887.37,388.27 L889.53,388.35 L891.68,388.43 L893.84,388.52 L896.00,388.61" fill="none" stroke="#ff8000" stroke-width="3.2" stroke-linejoin="round" stroke-linecap="butt"/>
<path d="M125.23,596.48 L127.40,596.51 L129.57,596.53 L131.74,596.56 L133.91,596.59 L136.08,596.63 L138.25,596.66 L140.43,596.70 L142.60,596.73 L144.77,596.77 L146.95,596.81 L149.12,596.86 L151.30,596.90 L153.47,596.95 L155.64,596.99 L157.82,597.04 L160.00,597.09 L162.17,597.14 L164.35,597.19 L166.52,597.24 L168.70,597.30 L170.88,597.35 L173.05,597.40 L175.23,597.46 L177.41,597.51 L179.59,597.57 L181.77,597.63 L183.94,597.69 L186.12,597.74 L188.30,597.80 L190.48,597.86 L192.66,597.92 L194.84,597.97 L197.02,598.03 L199.20,598.09 L201.38,598.15 L203.56,598.21 L205.74,598.26 L207.92,598.32 L210.10,598.38 L212.28,598.43 L214.46,598.49 L216.64,598.54 L218.82,598.60 L221.00,598.65 L223.18,598.70 L225.36,598.75 L227.54,598.80 L229.72,598.85 L231.90,598.90 L234.08,598.95 L236.26,598.99 L238.45,599.04 L240.63,599.08 L242.81,599.12 L244.99,599.16 L247.17,599.20 L249.35,599.24 L251.53,599.27 L253.71,599.30 L255.89,599.34 L258.08,599.36 L260.26,599.39 L262.44,599.42 L264.62,599.44 L266.80,599.46 L268.98,599.48 L271.16,599.49 L273.34,599.51 L275.52,599.52 L277.70,599.52 L279.88,599.53 L282.06,599.53 L284.24,599.53 L286.42,599.53 L288.60,599.52 L290.78,599.51 L292.96,599.50 L295.14,599.49 L297.32,599.47 L299.50,599.44 L301.68,599.42 L303.86,599.39 L306.03,599.36 L308.21,599.32 L310.39,599.28 L312.57,599.24 L314.75,599.19 L316.92,599.14 L319.10,599.09 L321.28,599.03 L323.45,598.96 L325.63,598.90 L327.81,598.82 L329.98,598.75 L332.16,598.67 L334.33,598.58 L336.51,598.49 L338.68,598.40 L340.86,598.30 L343.03,598.20 L345.20,598.09 L347.38,597.98 L349.55,597.86 L351.72,597.74 L353.90,597.61 L356.07,597.48 L358.24,597.34 L360.41,597.20 L362.58,597.05 L364.75,596.89 L366.92,596.73 L369.09,596.57 L371.26,596.40 L373.43,596.22 L375.60,596.04 L377.77,595.85 L379.93,595.66 L382.10,595.46 L384.27,595.25 L386.43,595.04 L388.60,594.82 L390.76,594.60 L392.93,594.37 L395.09,594.13 L397.26,593.89 L399.42,593.64 L401.58,593.38 L403.75,593.12 L405.91,592.85 L408.07,592.57 L410.23,592.28 L412.39,591.99 L414.55,591.69 L416.71,591.39 L418.86,591.07 L421.02,590.74 L423.17,590.39 L425.32,590.03 L427.46,589.65 L429.60,589.25 L431.73,588.83 L433.86,588.39 L435.98,587.92 L438.10,587.42 L440.21,586.90 L442.31,586.35 L444.40,585.77 L446.49,585.15 L448.56,584.51 L450.63,583.82 L452.69,583.10 L454.73,582.33 L456.76,581.54 L458.78,580.70 L460.78,579.82 L462.77,578.91 L464.74,577.97 L466.70,576.98 L468.63,575.96 L470.54,574.91 L472.43,573.82 L474.30,572.69 L476.14,571.53 L477.96,570.34 L479.76,569.11 L481.53,567.86 L483.28,566.57 L485.01,565.24 L486.71,563.89 L488.38,562.52 L490.04,561.11 L491.67,559.67 L493.28,558.21 L494.87,556.73 L496.43,555.22 L497.97,553.68 L499.49,552.12 L500.99,550.54 L502.46,548.94 L503.92,547.32 L505.35,545.68 L506.76,544.02 L508.15,542.34 L509.51,540.64 L510.86,538.93 L512.19,537.20 L513.49,535.46 L514.78,533.71 L516.04,531.94 L517.28,530.16 L518.51,528.36 L519.72,526.56 L520.91,524.74 L522.08,522.92 L523.24,521.08 L524.38,519.23 L525.50,517.38 L526.62,515.51 L527.72,513.64 L528.81,511.76 L529.89,509.87 L530.95,507.98 L532.01,506.08 L533.06,504.17 L534.10,502.26 L535.14,500.35 L536.17,498.43 L537.19,496.50 L538.20,494.57 L539.22,492.64 L540.23,490.71 L541.23,488.77 L542.24,486.83 L543.24,484.89 L544.25,482.95 L545.25,481.01 L546.26,479.07 L547.27,477.13 L548.28,475.20 L549.30,473.26 L550.32,471.33 L551.34,469.40 L552.37,467.47 L553.41,465.54 L554.45,463.62 L555.51,461.71 L556.57,459.80 L557.64,457.89 L558.72,456.00 L559.81,454.11 L560.91,452.23 L562.02,450.35 L563.15,448.49 L564.28,446.63 L565.43,444.79 L566.60,442.95 L567.78,441.13 L568.97,439.32 L570.18,437.52 L571.41,435.74 L572.65,433.96 L573.91,432.21 L575.19,430.46 L576.49,428.73 L577.81,427.02 L579.14,425.33 L580.50,423.65 L581.88,421.98 L583.28,420.34 L584.70,418.70 L586.13,417.08 L587.59,415.47 L589.06,413.88 L590.55,412.29 L592.06,410.72 L593.59,409.15 L595.13,407.60 L596.69,406.06 L598.27,404.52 L599.86,402.99 L601.47,401.46 L603.10,399.95 L604.74,398.44 L606.40,396.93 L608.07,395.44 L609.77,393.97 L611.48,392.55 L613.22,391.17 L614.99,389.86 L616.78,388.63 L618.61,387.48 L620.47,386.42 L622.36,385.48 L624.30,384.66 L626.27,383.97 L628.29,383.43 L630.35,383.05 L632.45,382.81 L634.59,382.69 L636.76,382.67 L638.94,382.71 L641.14,382.79 L643.35,382.90 L645.55,382.99 L647.75,383.05 L649.94,383.09 L652.13,383.11 L654.31,383.11 L656.49,383.09 L658.67,383.05 L660.85,383.00 L663.02,382.93 L665.19,382.86 L667.36,382.78 L669.53,382.70 L671.70,382.62 L673.87,382.53 L676.04,382.45 L678.21,382.37 L680.38,382.28 L682.55,382.20 L684.73,382.12 L686.90,382.04 L689.08,381.96 L691.25,381.89 L693.42,381.81 L695.60,381.73 L697.78,381.66 L699.95,381.59 L702.13,381.52 L704.31,381.45 L706.48,381.38 L708.66,381.31 L710.84,381.24 L713.02,381.18 L715.20,381.11 L717.37,381.05 L719.55,380.99 L721.73,380.93 L723.91,380.87 L726.09,380.81 L728.27,380.76 L730.45,380.71 L732.63,380.65 L734.80,380.60 L736.98,380.56 L739.16,380.51 L741.34,380.46 L743.52,380.42 L745.70,380.38 L747.88,380.34 L750.06,380.30 L752.23,380.26 L754.41,380.22 L756.59,380.19 L758.77,380.15 L760.95,380.12 L763.13,380.09 L765.30,380.06 L767.48,380.03 L769.66,380.00 L771.84,379.98 L774.02,379.95 L776.20,379.93 L778.37,379.91 L780.55,379.88 L782.73,379.86 L784.91,379.84 L787.09,379.82 L789.27,379.81 L791.44,379.79 L793.62,379.77 L795.80,379.76 L797.98,379.74 L800.16,379.73 L802.33,379.71 L804.51,379.70 L806.69,379.69 L808.87,379.68 L811.05,379.67 L813.22,379.66 L815.40,379.65 L817.58,379.64 L819.76,379.63 L821.94,379.63 L824.11,379.62 L826.29,379.61 L828.47,379.61 L830.65,379.60 L832.83,379.60 L835.01,379.59 L837.18,379.59 L839.36,379.58 L841.54,379.58 L843.72,379.57 L845.90,379.57 L848.07,379.57 L850.25,379.56 L852.43,379.56 L854.61,379.56 L856.79,379.55 L858.97,379.55 L861.14,379.55 L863.32,379.54 L865.50,379.54 L867.68,379.54 L869.86,379.53 L872.04,379.53 L874.21,379.53 L876.39,379.52 L878.57,379.52 L880.75,379.51 L882.93,379.51 L885.11,379.50 L887.29,379.50 L889.46,379.49 L891.64,379.49 L893.82,379.48 L896.00,379.47" fill="none" stroke="#ff0000" stroke-width="3.2" stroke-linejoin="round" stroke-linecap="butt"/>
<path d="M125.33,83.81 L127.56,83.78 L129.80,83.75 L132.03,83.72 L134.27,83.70 L136.50,83.68 L138.74,83.67 L140.98,83.66 L143.22,83.66 L145.46,83.65 L147.70,83.66 L149.94,83.67 L152.18,83.68 L154.42,83.69 L156.67,83.72 L158.91,83.74 L161.15,83.77 L163.40,83.81 L165.64,83.85 L167.88,83.90 L170.13,83.95 L172.37,84.00 L174.62,84.07 L176.86,84.13 L179.11,84.20 L181.36,84.28 L183.60,84.36 L185.85,84.45 L188.09,84.55 L190.34,84.65 L192.58,84.75 L194.83,84.86 L197.07,84.98 L199.32,85.10 L201.56,85.23 L203.80,85.37 L206.05,85.51 L208.29,85.66 L210.53,85.81 L212.78,85.97 L215.02,86.14 L217.26,86.31 L219.50,86.49 L221.74,86.68 L223.98,86.87 L226.22,87.07 L228.45,87.28 L230.69,87.50 L232.93,87.72 L235.16,87.95 L237.40,88.18 L239.63,88.42 L241.86,88.67 L244.09,88.93 L246.32,89.20 L248.55,89.47 L250.78,89.75 L253.01,90.04 L255.23,90.33 L257.46,90.63 L259.68,90.95 L261.90,91.26 L264.12,91.59 L266.34,91.93 L268.56,92.27 L270.77,92.62 L272.99,92.98 L275.20,93.35 L277.41,93.73 L279.62,94.11 L281.83,94.50 L284.03,94.91 L286.24,95.32 L288.44,95.74 L290.64,96.16 L292.84,96.60 L295.04,97.05 L297.23,97.50 L299.42,97.97 L301.61,98.44 L303.80,98.92 L305.99,99.42 L308.17,99.92 L310.35,100.43 L312.53,100.95 L314.71,101.48 L316.88,102.02 L319.06,102.57 L321.23,103.13 L323.40,103.70 L325.56,104.28 L327.72,104.87 L329.88,105.46 L332.04,106.07 L334.20,106.69 L336.35,107.32 L338.50,107.95 L340.65,108.60 L342.79,109.26 L344.93,109.92 L347.07,110.59 L349.21,111.28 L351.34,111.97 L353.47,112.67 L355.60,113.38 L357.72,114.10 L359.85,114.83 L361.97,115.57 L364.08,116.31 L366.20,117.07 L368.31,117.83 L370.42,118.61 L372.52,119.39 L374.62,120.18 L376.72,120.98 L378.82,121.78 L380.91,122.60 L383.00,123.42 L385.08,124.25 L387.17,125.10 L389.25,125.94 L391.32,126.80 L393.40,127.67 L395.47,128.54 L397.53,129.42 L399.60,130.31 L401.66,131.21 L403.71,132.12 L405.77,133.03 L407.82,133.95 L409.86,134.88 L411.91,135.82 L413.95,136.76 L415.98,137.71 L418.02,138.67 L420.04,139.64 L422.07,140.62 L424.09,141.60 L426.11,142.59 L428.12,143.59 L430.14,144.59 L432.14,145.60 L434.15,146.62 L436.14,147.65 L438.13,148.69 L440.12,149.75 L442.09,150.81 L444.05,151.89 L446.01,152.99 L447.95,154.11 L449.88,155.25 L451.79,156.40 L453.69,157.58 L455.57,158.78 L457.44,160.01 L459.28,161.27 L461.11,162.55 L462.92,163.86 L464.71,165.20 L466.47,166.57 L468.21,167.97 L469.93,169.40 L471.63,170.85 L473.30,172.33 L474.96,173.84 L476.59,175.38 L478.20,176.93 L479.79,178.51 L481.35,180.12 L482.89,181.74 L484.42,183.38 L485.92,185.05 L487.40,186.73 L488.87,188.43 L490.31,190.14 L491.74,191.87 L493.16,193.62 L494.56,195.38 L495.94,197.15 L497.32,198.94 L498.67,200.73 L500.02,202.54 L501.36,204.35 L502.69,206.17 L504.00,208.00 L505.31,209.84 L506.62,211.68 L507.91,213.52 L509.20,215.37 L510.48,217.22 L511.76,219.08 L513.04,220.93 L514.30,222.79 L515.56,224.66 L516.82,226.52 L518.07,228.39 L519.32,230.27 L520.55,232.14 L521.79,234.02 L523.02,235.90 L524.24,237.79 L525.45,239.68 L526.66,241.57 L527.87,243.46 L529.07,245.36 L530.26,247.26 L531.45,249.16 L532.63,251.07 L533.81,252.98 L534.98,254.89 L536.14,256.81 L537.30,258.73 L538.45,260.65 L539.60,262.58 L540.74,264.51 L541.88,266.44 L543.00,268.37 L544.13,270.31 L545.24,272.25 L546.36,274.19 L547.46,276.14 L548.56,278.09 L549.65,280.05 L550.74,282.00 L551.82,283.96 L552.90,285.92 L553.97,287.89 L555.04,289.86 L556.10,291.83 L557.16,293.80 L558.22,295.77 L559.28,297.74 L560.34,299.71 L561.40,301.68 L562.47,303.65 L563.53,305.62 L564.60,307.58 L565.68,309.54 L566.76,311.50 L567.85,313.46 L568.95,315.41 L570.06,317.36 L571.17,319.31 L572.30,321.24 L573.44,323.18 L574.59,325.10 L575.75,327.02 L576.93,328.93 L578.13,330.84 L579.34,332.74 L580.57,334.62 L581.81,336.50 L583.08,338.37 L584.36,340.23 L585.67,342.08 L587.00,343.92 L588.35,345.75 L589.72,347.56 L591.12,349.36 L592.54,351.15 L593.99,352.91 L595.47,354.65 L596.97,356.36 L598.50,358.04 L600.06,359.68 L601.65,361.29 L603.27,362.87 L604.92,364.39 L606.60,365.88 L608.32,367.31 L610.07,368.69 L611.85,370.02 L613.66,371.29 L615.51,372.50 L617.40,373.64 L619.32,374.72 L621.27,375.72 L623.26,376.66 L625.28,377.53 L627.33,378.33 L629.41,379.06 L631.51,379.72 L633.63,380.31 L635.77,380.82 L637.93,381.27 L640.11,381.65 L642.31,381.96 L644.52,382.22 L646.74,382.43 L648.98,382.59 L651.23,382.70 L653.48,382.77 L655.74,382.81 L658.01,382.81 L660.29,382.79 L662.56,382.74 L664.84,382.68 L667.12,382.60 L669.40,382.51 L671.68,382.41 L673.95,382.31 L676.22,382.21 L678.48,382.11 L680.74,382.01 L683.00,381.91 L685.26,381.81 L687.51,381.71 L689.76,381.61 L692.00,381.51 L694.25,381.42 L696.49,381.32 L698.73,381.22 L700.96,381.12 L703.20,381.03 L705.44,380.93 L707.67,380.84 L709.90,380.75 L712.13,380.66 L714.36,380.57 L716.59,380.49 L718.82,380.40 L721.05,380.32 L723.28,380.24 L725.51,380.17 L727.74,380.09 L729.97,380.02 L732.21,379.95 L734.44,379.89 L736.67,379.83 L738.91,379.77 L741.14,379.72 L743.38,379.66 L745.61,379.61 L747.85,379.57 L750.09,379.52 L752.33,379.48 L754.57,379.44 L756.81,379.41 L759.05,379.37 L761.29,379.34 L763.53,379.31 L765.77,379.28 L768.02,379.26 L770.26,379.23 L772.51,379.21 L774.75,379.19 L776.99,379.17 L779.24,379.15 L781.49,379.14 L783.73,379.13 L785.98,379.11 L788.22,379.10 L790.47,379.09 L792.72,379.09 L794.97,379.08 L797.21,379.07 L799.46,379.07 L801.71,379.07 L803.96,379.06 L806.21,379.06 L808.45,379.06 L810.70,379.06 L812.95,379.06 L815.20,379.06 L817.45,379.06 L819.70,379.06 L821.95,379.06 L824.19,379.06 L826.44,379.07 L828.69,379.07 L830.94,379.07 L833.19,379.07 L835.43,379.08 L837.68,379.08 L839.93,379.08 L842.18,379.08 L844.42,379.08 L846.67,379.08 L848.92,379.08 L851.16,379.08 L853.41,379.08 L855.65,379.08 L857.90,379.07 L860.14,379.07 L862.39,379.06 L864.63,379.06 L866.87,379.05 L869.12,379.04 L871.36,379.03 L873.60,379.02 L875.84,379.01 L878.08,378.99 L880.32,378.98 L882.56,378.96 L884.80,378.94 L887.04,378.92 L889.27,378.90 L891.51,378.87 L893.74,378.85 L895.98,378.82" fill="none" stroke="#ff0000" stroke-width="3.2" stroke-linejoin="round" stroke-linecap="butt"/>
<rect x="101.0" y="19.3" width="819.3" height="610.2" fill="none" stroke="#000" stroke-width="2"/>
<path d="M152.2,629.5v-11.0M152.2,19.3v11.0M203.4,629.5v-5.5M203.4,19.3v5.5M254.6,629.5v-5.5M254.6,19.3v5.5M305.8,629.5v-5.5M305.8,19.3v5.5M357.0,629.5v-5.5M357.0,19.3v5.5M408.2,629.5v-11.0M408.2,19.3v11.0M459.4,629.5v-5.5M459.4,19.3v5.5M510.6,629.5v-5.5M510.6,19.3v5.5M561.8,629.5v-5.5M561.8,19.3v5.5M613.0,629.5v-5.5M613.0,19.3v5.5M664.2,629.5v-11.0M664.2,19.3v11.0M715.4,629.5v-5.5M715.4,19.3v5.5M766.6,629.5v-5.5M766.6,19.3v5.5M817.8,629.5v-5.5M817.8,19.3v5.5M869.0,629.5v-5.5M869.0,19.3v5.5M101.0,567.2h5.5M920.3,567.2h-5.5M101.0,504.9h11.0M920.3,504.9h-11.0M101.0,442.7h5.5M920.3,442.7h-5.5M101.0,380.4h11.0M920.3,380.4h-11.0M101.0,318.1h5.5M920.3,318.1h-5.5M101.0,255.8h11.0M920.3,255.8h-11.0M101.0,193.6h5.5M920.3,193.6h-5.5M101.0,131.3h11.0M920.3,131.3h-11.0M101.0,69.0h5.5M920.3,69.0h-5.5" stroke="#000" stroke-width="2" fill="none"/>
<text transform="translate(88.60,141.30) scale(1,1.050)" font-size="32.0" fill="#000" stroke="#000" stroke-width="0.35" stroke-linejoin="round" text-anchor="end">4</text>
<text transform="translate(88.60,265.85) scale(1,1.050)" font-size="32.0" fill="#000" stroke="#000" stroke-width="0.35" stroke-linejoin="round" text-anchor="end">2</text>
<text transform="translate(88.60,390.40) scale(1,1.050)" font-size="32.0" fill="#000" stroke="#000" stroke-width="0.35" stroke-linejoin="round" text-anchor="end">0</text>
<text transform="translate(88.60,514.95) scale(1,1.050)" font-size="32.0" fill="#000" stroke="#000" stroke-width="0.35" stroke-linejoin="round" text-anchor="end">-2</text>
<text transform="translate(88.60,639.50) scale(1,1.050)" font-size="32.0" fill="#000" stroke="#000" stroke-width="0.35" stroke-linejoin="round" text-anchor="end">-4</text>
<text transform="translate(152.20,667.20) scale(1,1.050)" font-size="32.0" fill="#000" stroke="#000" stroke-width="0.35" stroke-linejoin="round" text-anchor="middle">0.90</text>
<text transform="translate(408.20,667.20) scale(1,1.050)" font-size="32.0" fill="#000" stroke="#000" stroke-width="0.35" stroke-linejoin="round" text-anchor="middle">0.95</text>
<text transform="translate(664.20,667.20) scale(1,1.050)" font-size="32.0" fill="#000" stroke="#000" stroke-width="0.35" stroke-linejoin="round" text-anchor="middle"> .00</text>
<path transform="translate(633.06,667.20) scale(0.01562,-0.01562)" d="M785,0L597,0L597,1140Q530,1080 422,1018Q315,958 228,928L228,1102Q380,1172 495,1274Q610,1376 660,1466L785,1466Z" fill="#000" stroke="#000" stroke-width="22.4" stroke-linejoin="round"/>
<text transform="translate(920.20,667.20) scale(1,1.050)" font-size="32.0" fill="#000" stroke="#000" stroke-width="0.35" stroke-linejoin="round" text-anchor="middle"> .05</text>
<path transform="translate(889.06,667.20) scale(0.01562,-0.01562)" d="M785,0L597,0L597,1140Q530,1080 422,1018Q315,958 228,928L228,1102Q380,1172 495,1274Q610,1376 660,1466L785,1466Z" fill="#000" stroke="#000" stroke-width="22.4" stroke-linejoin="round"/>
<text transform="translate(499.40,708.60)" font-size="37.0" fill="#000" stroke="#000" stroke-width="0.35" stroke-linejoin="round" text-anchor="start" font-style="italic">T</text>
<text transform="translate(530.10,708.60)" font-size="37.0" fill="#000" stroke="#000" stroke-width="0.35" stroke-linejoin="round" text-anchor="start">(K)</text>
<text transform="translate(32,394.3) rotate(-90)" font-size="36" stroke="#000" stroke-width="0.35" stroke-linejoin="round"><tspan font-style="italic">P</tspan><tspan dx="-1.3"> (µC/m</tspan><tspan font-size="25" dy="-14.1">2</tspan><tspan dy="14.1" dx="0.5">)</tspan></text>
<rect x="80" y="0" width="113.8" height="27" fill="#fff"/>
<text transform="translate(84.40,17.00)" font-size="23.0" fill="#000" stroke="#000" stroke-width="0.35" stroke-linejoin="round" text-anchor="start" font-style="italic">E</text>
<text transform="translate(99.90,23.20)" font-size="15.6" fill="#000" stroke="#000" stroke-width="0.35" stroke-linejoin="round" text-anchor="start" font-style="italic">p</text>
<text transform="translate(112.40,17.00)" font-size="22.5" fill="#000" stroke="#000" stroke-width="0.35" stroke-linejoin="round" text-anchor="start">(kV/cm)</text>
<text transform="translate(124.60,69.20)" font-size="20.0" fill="#ff0000" stroke="#ff0000" stroke-width="0.35" stroke-linejoin="round" text-anchor="start">+2.3</text>
<text transform="translate(124.60,110.30)" font-size="20.0" fill="#8000ff" stroke="#8000ff" stroke-width="0.35" stroke-linejoin="round" text-anchor="start">+ .2</text>
<path transform="translate(136.28,110.30) scale(0.00977,-0.00977)" d="M785,0L597,0L597,1140Q530,1080 422,1018Q315,958 228,928L228,1102Q380,1172 495,1274Q610,1376 660,1466L785,1466Z" fill="#8000ff" stroke="#8000ff" stroke-width="35.8" stroke-linejoin="round"/>
<text transform="translate(124.60,141.20)" font-size="20.0" fill="#ff8000" stroke="#ff8000" stroke-width="0.35" stroke-linejoin="round" text-anchor="start">+0.6</text>
<text transform="translate(124.60,209.30)" font-size="20.0" fill="#00c800" stroke="#00c800" stroke-width="0.35" stroke-linejoin="round" text-anchor="start">+0.3</text>
<text transform="translate(124.60,287.20)" font-size="20.0" fill="#ff00ff" stroke="#ff00ff" stroke-width="0.35" stroke-linejoin="round" text-anchor="start">+0. </text>
<path transform="translate(152.96,287.20) scale(0.00977,-0.00977)" d="M785,0L597,0L597,1140Q530,1080 422,1018Q315,958 228,928L228,1102Q380,1172 495,1274Q610,1376 660,1466L785,1466Z" fill="#ff00ff" stroke="#ff00ff" stroke-width="35.8" stroke-linejoin="round"/>
<text transform="translate(145.50,365.10)" font-size="20.0" fill="#0000ff" stroke="#0000ff" stroke-width="0.35" stroke-linejoin="round" text-anchor="start">0</text>
<text transform="translate(127.50,581.20)" font-size="20.0" fill="#ff0000" stroke="#ff0000" stroke-width="0.35" stroke-linejoin="round" text-anchor="start">-2.3</text>
<rect x="604.8" y="42.8" width="291.0" height="250.4" fill="#fff" stroke="none"/>
<clipPath id="ic"><rect x="604.8" y="42.8" width="291.0" height="250.4"/></clipPath>
<path d="M639.5,293.2v-8.5M639.5,42.8v8.5M725.0,293.2v-4.5M725.0,42.8v4.5M810.5,293.2v-8.5M810.5,42.8v8.5M604.8,74.8h8.5M895.8,74.8h-8.5M604.8,139.0h8.5M895.8,139.0h-8.5M604.8,203.2h8.5M895.8,203.2h-8.5M604.8,267.4h8.5M895.8,267.4h-8.5" stroke="#000" stroke-width="1.8" fill="none"/>
<g clip-path="url(#ic)">
<path d="M645.49,274.38 L646.23,274.20 L646.97,274.02 L647.72,273.84 L648.46,273.67 L649.20,273.49 L649.95,273.31 L650.69,273.13 L651.43,272.95 L652.18,272.77 L652.92,272.59 L653.66,272.42 L654.41,272.24 L655.15,272.06 L655.89,271.88 L656.64,271.70 L657.38,271.52 L658.12,271.33 L658.87,271.15 L659.61,270.97 L660.35,270.79 L661.09,270.61 L661.84,270.43 L662.58,270.24 L663.32,270.06 L664.06,269.87 L664.81,269.69 L665.55,269.51 L666.29,269.32 L667.03,269.13 L667.77,268.95 L668.51,268.76 L669.26,268.57 L670.00,268.39 L670.74,268.20 L671.48,268.01 L672.22,267.82 L672.96,267.63 L673.70,267.44 L674.44,267.25 L675.18,267.06 L675.92,266.86 L676.66,266.67 L677.40,266.47 L678.14,266.28 L678.88,266.08 L679.62,265.89 L680.36,265.69 L681.09,265.49 L681.83,265.30 L682.57,265.10 L683.31,264.90 L684.04,264.69 L684.78,264.49 L685.52,264.29 L686.25,264.09 L686.99,263.88 L687.73,263.68 L688.46,263.47 L689.20,263.26 L689.93,263.06 L690.67,262.85 L691.40,262.64 L692.14,262.43 L692.87,262.21 L693.60,262.00 L694.34,261.79 L695.07,261.57 L695.80,261.36 L696.53,261.14 L697.26,260.92 L698.00,260.70 L698.73,260.48 L699.46,260.26 L700.19,260.04 L700.92,259.81 L701.65,259.59 L702.38,259.36 L703.10,259.14 L703.83,258.91 L704.56,258.68 L705.29,258.45 L706.01,258.22 L706.74,257.98 L707.47,257.75 L708.19,257.51 L708.92,257.27 L709.64,257.04 L710.37,256.80 L711.09,256.55 L711.81,256.31 L712.54,256.07 L713.26,255.82 L713.98,255.58 L714.70,255.33 L715.42,255.08 L716.14,254.83 L716.86,254.57 L717.58,254.32 L718.30,254.06 L719.02,253.81 L719.73,253.55 L720.45,253.29 L721.17,253.03 L721.88,252.76 L722.60,252.50 L723.31,252.23 L724.03,251.97 L724.74,251.70 L725.46,251.42 L726.17,251.15 L726.88,250.88 L727.59,250.60 L728.30,250.32 L729.01,250.04 L729.72,249.76 L730.43,249.48 L731.14,249.19 L731.85,248.91 L732.55,248.62 L733.26,248.33 L733.96,248.04 L734.67,247.74 L735.37,247.45 L736.08,247.15 L736.78,246.85 L737.48,246.55 L738.18,246.25 L738.88,245.94 L739.58,245.64 L740.28,245.33 L740.98,245.02 L741.68,244.70 L742.38,244.39 L743.07,244.07 L743.77,243.75 L744.47,243.43 L745.16,243.11 L745.85,242.78 L746.55,242.46 L747.24,242.13 L747.93,241.80 L748.62,241.46 L749.31,241.13 L750.00,240.79 L750.69,240.45 L751.37,240.11 L752.06,239.77 L752.75,239.42 L753.43,239.07 L754.11,238.72 L754.80,238.37 L755.48,238.01 L756.16,237.65 L756.84,237.29 L757.51,236.93 L758.19,236.56 L758.86,236.19 L759.54,235.82 L760.21,235.45 L760.88,235.07 L761.54,234.69 L762.21,234.31 L762.87,233.92 L763.53,233.53 L764.19,233.14 L764.85,232.75 L765.50,232.35 L766.16,231.95 L766.81,231.54 L767.45,231.14 L768.10,230.72 L768.74,230.31 L769.38,229.89 L770.01,229.47 L770.64,229.04 L771.27,228.60 L771.89,228.17 L772.51,227.72 L773.12,227.27 L773.73,226.82 L774.33,226.36 L774.93,225.89 L775.52,225.41 L776.10,224.93 L776.68,224.44 L777.25,223.95 L777.81,223.44 L778.37,222.93 L778.92,222.41 L779.46,221.89 L780.00,221.36 L780.53,220.82 L781.05,220.28 L781.57,219.72 L782.08,219.17 L782.59,218.61 L783.09,218.04 L783.58,217.47 L784.07,216.89 L784.56,216.30 L785.04,215.72 L785.51,215.12 L785.98,214.53 L786.45,213.93 L786.91,213.32 L787.37,212.72 L787.82,212.10 L788.27,211.49 L788.71,210.87 L789.15,210.24 L789.59,209.62 L790.02,208.99 L790.45,208.35 L790.87,207.72 L791.29,207.08 L791.71,206.44 L792.13,205.79 L792.54,205.15 L792.95,204.50 L793.35,203.85 L793.76,203.19 L794.16,202.54 L794.55,201.88 L794.95,201.22 L795.34,200.56 L795.73,199.90 L796.12,199.23 L796.51,198.56 L796.89,197.90 L797.27,197.23 L797.65,196.56 L798.03,195.89 L798.41,195.22 L798.78,194.55 L799.15,193.88 L799.53,193.20 L799.90,192.53 L800.27,191.86 L800.64,191.18 L801.00,190.51 L801.37,189.84 L801.74,189.16 L802.10,188.49 L802.47,187.82 L802.83,187.14 L803.20,186.47 L803.56,185.80 L803.93,185.13 L804.29,184.46 L804.66,183.79 L805.02,183.11 L805.39,182.44 L805.76,181.77 L806.12,181.11 L806.49,180.44 L806.86,179.77 L807.23,179.10 L807.60,178.44 L807.97,177.77 L808.34,177.11 L808.72,176.44 L809.09,175.78 L809.47,175.12 L809.85,174.46 L810.23,173.80 L810.62,173.14 L811.00,172.49 L811.39,171.83 L811.78,171.18 L812.17,170.52 L812.56,169.87 L812.96,169.22 L813.36,168.57 L813.76,167.93 L814.17,167.28 L814.58,166.64 L814.99,165.99 L815.40,165.35 L815.82,164.72 L816.25,164.08 L816.67,163.44 L817.10,162.81 L817.53,162.18 L817.97,161.55 L818.41,160.92 L818.86,160.30 L819.31,159.68 L819.76,159.06 L820.22,158.44 L820.68,157.82 L821.15,157.21 L821.62,156.60 L822.10,155.99 L822.58,155.38 L823.07,154.78 L823.56,154.18 L824.06,153.59 L824.56,153.00 L825.07,152.41 L825.59,151.83 L826.11,151.26 L826.63,150.69 L827.17,150.13 L827.71,149.58 L828.25,149.04 L828.81,148.50 L829.36,147.98 L829.93,147.46 L830.50,146.96 L831.08,146.47 L831.67,145.99 L832.26,145.52 L832.86,145.06 L833.47,144.62 L834.09,144.19 L834.71,143.78 L835.34,143.38 L835.98,143.00 L836.63,142.63 L837.29,142.28 L837.95,141.95 L838.63,141.64 L839.31,141.34 L839.99,141.05 L840.69,140.78 L841.39,140.53 L842.10,140.29 L842.81,140.07 L843.53,139.86 L844.26,139.66 L844.99,139.47 L845.73,139.30 L846.47,139.14 L847.21,138.99 L847.96,138.85 L848.72,138.72 L849.48,138.60 L850.24,138.49 L851.00,138.40 L851.77,138.31 L852.54,138.22 L853.31,138.15 L854.09,138.09 L854.87,138.03 L855.64,137.98 L856.42,137.93 L857.20,137.89 L857.99,137.86 L858.77,137.83 L859.55,137.81 L860.33,137.79 L861.11,137.77 L861.89,137.76 L862.67,137.75 L863.45,137.74 L864.23,137.74 L865.00,137.74 L865.78,137.73 L866.55,137.73 L867.32,137.73 L868.09,137.74 L868.85,137.74 L869.62,137.74 L870.38,137.75 L871.14,137.75 L871.90,137.76 L872.66,137.76 L873.42,137.77 L874.17,137.77 L874.93,137.78 L875.69,137.79 L876.44,137.79 L877.20,137.80 L877.95,137.80 L878.70,137.81 L879.46,137.81 L880.21,137.82 L880.96,137.82 L881.72,137.82 L882.47,137.83 L883.23,137.83 L883.98,137.83 L884.74,137.83 L885.49,137.82 L886.25,137.82 L887.01,137.82 L887.77,137.81 L888.53,137.80 L889.29,137.79 L890.05,137.78 L890.81,137.77 L891.58,137.75 L892.34,137.73 L893.11,137.71 L893.88,137.69 L894.66,137.67 L895.43,137.64 L896.21,137.61 L896.99,137.58" fill="none" stroke="#ff0000" stroke-width="3.8" stroke-linejoin="round" stroke-linecap="butt"/>
<path d="M650.88,60.92 L651.58,60.87 L652.28,60.82 L652.98,60.77 L653.68,60.72 L654.37,60.68 L655.07,60.64 L655.77,60.60 L656.47,60.57 L657.17,60.54 L657.86,60.51 L658.56,60.48 L659.26,60.45 L659.95,60.43 L660.65,60.41 L661.34,60.39 L662.04,60.38 L662.74,60.37 L663.43,60.36 L664.13,60.35 L664.82,60.35 L665.51,60.34 L666.21,60.34 L666.90,60.35 L667.60,60.35 L668.29,60.36 L668.98,60.37 L669.68,60.38 L670.37,60.39 L671.06,60.41 L671.75,60.43 L672.44,60.45 L673.14,60.47 L673.83,60.50 L674.52,60.53 L675.21,60.56 L675.90,60.59 L676.59,60.63 L677.28,60.67 L677.97,60.71 L678.66,60.75 L679.35,60.79 L680.04,60.84 L680.73,60.89 L681.42,60.94 L682.11,61.00 L682.80,61.05 L683.48,61.11 L684.17,61.17 L684.86,61.23 L685.55,61.30 L686.24,61.36 L686.92,61.43 L687.61,61.51 L688.30,61.58 L688.98,61.65 L689.67,61.73 L690.36,61.81 L691.04,61.89 L691.73,61.98 L692.41,62.07 L693.10,62.15 L693.79,62.24 L694.47,62.34 L695.16,62.43 L695.84,62.53 L696.52,62.63 L697.21,62.73 L697.89,62.83 L698.58,62.94 L699.26,63.05 L699.94,63.15 L700.63,63.27 L701.31,63.38 L701.99,63.49 L702.68,63.61 L703.36,63.73 L704.04,63.85 L704.73,63.98 L705.41,64.10 L706.09,64.23 L706.77,64.36 L707.45,64.49 L708.14,64.62 L708.82,64.76 L709.50,64.89 L710.18,65.03 L710.86,65.17 L711.54,65.32 L712.22,65.46 L712.90,65.61 L713.58,65.76 L714.26,65.91 L714.94,66.06 L715.62,66.21 L716.30,66.37 L716.98,66.52 L717.66,66.68 L718.34,66.84 L719.02,67.01 L719.70,67.17 L720.38,67.34 L721.06,67.51 L721.74,67.68 L722.42,67.85 L723.09,68.02 L723.77,68.20 L724.45,68.38 L725.13,68.56 L725.80,68.74 L726.48,68.92 L727.16,69.11 L727.83,69.30 L728.50,69.49 L729.18,69.69 L729.85,69.89 L730.52,70.09 L731.19,70.29 L731.85,70.50 L732.52,70.71 L733.18,70.93 L733.85,71.15 L734.51,71.37 L735.17,71.60 L735.82,71.83 L736.48,72.07 L737.13,72.31 L737.78,72.56 L738.43,72.81 L739.07,73.06 L739.71,73.32 L740.35,73.58 L740.99,73.85 L741.63,74.13 L742.26,74.41 L742.88,74.70 L743.51,74.99 L744.13,75.29 L744.75,75.59 L745.36,75.90 L745.98,76.22 L746.58,76.54 L747.19,76.87 L747.79,77.20 L748.38,77.54 L748.97,77.89 L749.56,78.25 L750.15,78.61 L750.72,78.98 L751.30,79.36 L751.87,79.74 L752.44,80.13 L753.00,80.53 L753.55,80.94 L754.11,81.35 L754.66,81.76 L755.20,82.19 L755.74,82.62 L756.28,83.05 L756.81,83.49 L757.33,83.94 L757.86,84.39 L758.37,84.85 L758.89,85.32 L759.40,85.79 L759.90,86.26 L760.40,86.74 L760.90,87.23 L761.39,87.72 L761.88,88.22 L762.36,88.72 L762.84,89.23 L763.31,89.74 L763.78,90.25 L764.25,90.77 L764.71,91.29 L765.16,91.82 L765.61,92.36 L766.06,92.89 L766.50,93.43 L766.94,93.98 L767.37,94.52 L767.80,95.08 L768.23,95.63 L768.65,96.19 L769.06,96.75 L769.47,97.32 L769.88,97.89 L770.28,98.46 L770.68,99.03 L771.07,99.61 L771.46,100.19 L771.84,100.78 L772.22,101.36 L772.60,101.95 L772.97,102.54 L773.34,103.13 L773.70,103.72 L774.06,104.32 L774.42,104.92 L774.78,105.52 L775.13,106.12 L775.49,106.72 L775.84,107.32 L776.19,107.92 L776.54,108.53 L776.88,109.13 L777.23,109.73 L777.57,110.34 L777.92,110.94 L778.26,111.55 L778.61,112.15 L778.96,112.76 L779.30,113.36 L779.65,113.96 L780.00,114.57 L780.35,115.17 L780.70,115.77 L781.05,116.37 L781.41,116.96 L781.76,117.56 L782.12,118.15 L782.48,118.74 L782.85,119.33 L783.22,119.92 L783.59,120.51 L783.97,121.09 L784.35,121.67 L784.73,122.25 L785.12,122.82 L785.51,123.39 L785.91,123.96 L786.31,124.53 L786.72,125.09 L787.13,125.65 L787.55,126.20 L787.98,126.75 L788.41,127.30 L788.85,127.84 L789.29,128.38 L789.75,128.91 L790.21,129.44 L790.67,129.96 L791.15,130.47 L791.63,130.98 L792.12,131.48 L792.62,131.97 L793.13,132.44 L793.65,132.90 L794.18,133.35 L794.72,133.78 L795.27,134.19 L795.83,134.58 L796.40,134.95 L796.98,135.30 L797.57,135.63 L798.18,135.94 L798.79,136.23 L799.41,136.49 L800.04,136.74 L800.68,136.96 L801.32,137.16 L801.97,137.34 L802.63,137.51 L803.29,137.65 L803.96,137.77 L804.63,137.88 L805.31,137.97 L805.99,138.05 L806.67,138.11 L807.36,138.16 L808.05,138.20 L808.75,138.23 L809.45,138.25 L810.15,138.26 L810.85,138.26 L811.55,138.26 L812.26,138.26 L812.96,138.25 L813.67,138.24 L814.37,138.22 L815.08,138.21 L815.78,138.20 L816.49,138.18 L817.19,138.17 L817.90,138.16 L818.60,138.15 L819.30,138.14 L820.01,138.13 L820.71,138.12 L821.41,138.11 L822.11,138.10 L822.81,138.09 L823.51,138.08 L824.21,138.08 L824.91,138.07 L825.61,138.06 L826.31,138.06 L827.00,138.05 L827.70,138.05 L828.40,138.04 L829.10,138.04 L829.79,138.03 L830.49,138.03 L831.19,138.03 L831.88,138.02 L832.58,138.02 L833.27,138.02 L833.97,138.02 L834.66,138.01 L835.36,138.01 L836.05,138.01 L836.74,138.01 L837.44,138.01 L838.13,138.01 L838.82,138.01 L839.51,138.01 L840.21,138.01 L840.90,138.01 L841.59,138.01 L842.28,138.02 L842.97,138.02 L843.67,138.02 L844.36,138.02 L845.05,138.02 L845.74,138.03 L846.43,138.03 L847.12,138.03 L847.81,138.03 L848.50,138.04 L849.19,138.04 L849.88,138.04 L850.57,138.05 L851.26,138.05 L851.95,138.05 L852.64,138.06 L853.33,138.06 L854.02,138.07 L854.71,138.07 L855.40,138.07 L856.09,138.08 L856.78,138.08 L857.47,138.09 L858.16,138.09 L858.85,138.09 L859.54,138.10 L860.23,138.10 L860.92,138.11 L861.61,138.11 L862.30,138.11 L862.98,138.12 L863.67,138.12 L864.36,138.13 L865.05,138.13 L865.74,138.13 L866.43,138.14 L867.12,138.14 L867.81,138.15 L868.51,138.15 L869.20,138.15 L869.89,138.15 L870.58,138.16 L871.27,138.16 L871.96,138.16 L872.65,138.17 L873.34,138.17 L874.03,138.17 L874.73,138.17 L875.42,138.17 L876.11,138.18 L876.80,138.18 L877.49,138.18 L878.19,138.18 L878.88,138.18 L879.57,138.18 L880.27,138.18 L880.96,138.18 L881.66,138.18 L882.35,138.18 L883.04,138.18 L883.74,138.18 L884.44,138.18 L885.13,138.18 L885.83,138.17 L886.52,138.17 L887.22,138.17 L887.92,138.17 L888.61,138.16 L889.31,138.16 L890.01,138.15 L890.71,138.15 L891.41,138.14 L892.11,138.14 L892.81,138.13 L893.51,138.13 L894.21,138.12 L894.91,138.11 L895.61,138.10 L896.31,138.10 L897.01,138.09" fill="none" stroke="#0000ff" stroke-width="3.4" stroke-linejoin="round" stroke-linecap="butt"/>
</g>
<rect x="604.8" y="42.8" width="291.0" height="250.4" fill="none" stroke="#000" stroke-width="1.8"/>
<text transform="translate(595.80,82.30)" font-size="24.0" fill="#000" stroke="#000" stroke-width="0.35" stroke-linejoin="round" text-anchor="end">3</text>
<text transform="translate(595.80,146.70)" font-size="24.0" fill="#000" stroke="#000" stroke-width="0.35" stroke-linejoin="round" text-anchor="end">0</text>
<text transform="translate(595.80,210.80)" font-size="24.0" fill="#000" stroke="#000" stroke-width="0.35" stroke-linejoin="round" text-anchor="end">-3</text>
<text transform="translate(595.80,274.40)" font-size="24.0" fill="#000" stroke="#000" stroke-width="0.35" stroke-linejoin="round" text-anchor="end">-6</text>
<text transform="translate(639.50,321.30)" font-size="24.0" fill="#000" stroke="#000" stroke-width="0.35" stroke-linejoin="round" text-anchor="middle">0.9</text>
<text transform="translate(810.50,321.30)" font-size="24.0" fill="#000" stroke="#000" stroke-width="0.35" stroke-linejoin="round" text-anchor="middle"> .0</text>
<path transform="translate(793.82,321.30) scale(0.01172,-0.01172)" d="M785,0L597,0L597,1140Q530,1080 422,1018Q315,958 228,928L228,1102Q380,1172 495,1274Q610,1376 660,1466L785,1466Z" fill="#000" stroke="#000" stroke-width="29.9" stroke-linejoin="round"/>
<path d="M628,275.2V68" stroke="#000" stroke-width="2"/>
<path d="M628,58.5L632.8,70.6L623.2,70.6Z" fill="#000"/>
<rect x="639.3" y="129.4" width="16.2" height="21.6" fill="none" stroke="#000" stroke-width="1.2"/>
<text transform="translate(647.20,147.30)" font-size="19.0" fill="#000" stroke="#000" stroke-width="0.35" stroke-linejoin="round" text-anchor="middle">2</text>
<text transform="translate(637.60,182.10)" font-size="19.0" fill="#000" stroke="#000" stroke-width="0.35" stroke-linejoin="round" text-anchor="start" word-spacing="-1.9">4.7 kV/cm</text>
<path d="M771.8,80.4L796,116" stroke="#0000ff" stroke-width="1.8"/>
<path d="M801.7,124.6L790.7,116.9L798.2,112Z" fill="#0000ff"/>
<rect x="807.5" y="84.8" width="16.3" height="21.8" fill="none" stroke="#0000ff" stroke-width="1.35"/>
<text transform="translate(815.60,102.60)" font-size="19.0" fill="#0000ff" stroke="#0000ff" stroke-width="0.35" stroke-linejoin="round" text-anchor="middle">3</text>
<text transform="translate(755.60,68.60)" font-size="19.0" fill="#0000ff" stroke="#0000ff" stroke-width="0.35" stroke-linejoin="round" text-anchor="start" word-spacing="-1.9">0 kV/cm</text>
<path d="M820.3,189.8L800,226" stroke="#ff0000" stroke-width="1.8"/>
<path d="M795.2,235.7L797.3,222.5L805.8,226.5Z" fill="#ff0000"/>
<rect x="834" y="202.5" width="16.3" height="21.8" fill="none" stroke="#ff0000" stroke-width="1.35"/>
<text transform="translate(842.20,220.20)" font-size="19.0" fill="#ff0000" stroke="#ff0000" stroke-width="0.35" stroke-linejoin="round" text-anchor="middle"> </text>
<path transform="translate(836.92,220.20) scale(0.00928,-0.00928)" d="M785,0L597,0L597,1140Q530,1080 422,1018Q315,958 228,928L228,1102Q380,1172 495,1274Q610,1376 660,1466L785,1466Z" fill="#ff0000" stroke="#ff0000" stroke-width="37.7" stroke-linejoin="round"/>
<text transform="translate(735.10,264.80)" font-size="18.8" fill="#ff0000" stroke="#ff0000" stroke-width="0.35" stroke-linejoin="round" text-anchor="start" word-spacing="-1.9">-2.3 kV/cm</text>
</svg></body></html>
